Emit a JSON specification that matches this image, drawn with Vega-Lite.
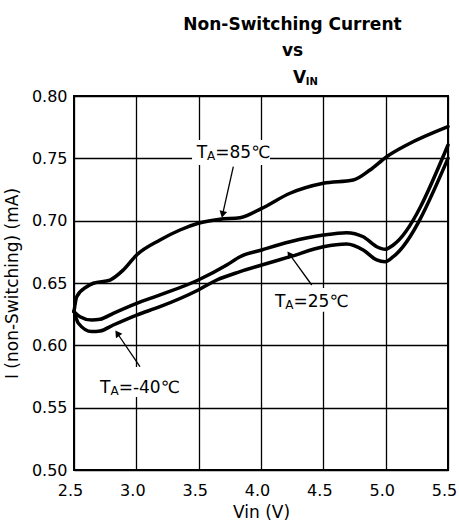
{
  "$schema": "https://vega.github.io/schema/vega-lite/v6.json",
  "width": 374,
  "height": 374,
  "autosize": {"type": "none"},
  "padding": {"left": 74, "top": 96, "right": 11, "bottom": 54},
  "title": {
    "text": ["Non-Switching Current", "vs"],
    "font": "DejaVu Sans",
    "fontSize": 17,
    "fontWeight": "bold",
    "color": "black",
    "lineHeight": 26.6,
    "offset": 9,
    "dx": 31.5,
    "anchor": "middle"
  },
  "datasets": {
    "curves": [
      {"series": "85", "vin": 2.5, "i": 0.627},
      {"series": "85", "vin": 2.522, "i": 0.639},
      {"series": "85", "vin": 2.602, "i": 0.647},
      {"series": "85", "vin": 2.655, "i": 0.6498},
      {"series": "85", "vin": 2.789, "i": 0.6524},
      {"series": "85", "vin": 2.895, "i": 0.6604},
      {"series": "85", "vin": 3.003, "i": 0.6725},
      {"series": "85", "vin": 3.19, "i": 0.6845},
      {"series": "85", "vin": 3.35, "i": 0.6925},
      {"series": "85", "vin": 3.497, "i": 0.6979},
      {"series": "85", "vin": 3.671, "i": 0.7011},
      {"series": "85", "vin": 3.832, "i": 0.7024},
      {"series": "85", "vin": 4.006, "i": 0.7099},
      {"series": "85", "vin": 4.233, "i": 0.722},
      {"series": "85", "vin": 4.5, "i": 0.73},
      {"series": "85", "vin": 4.74, "i": 0.7326},
      {"series": "85", "vin": 4.874, "i": 0.7406},
      {"series": "85", "vin": 5.008, "i": 0.7513},
      {"series": "85", "vin": 5.169, "i": 0.7607},
      {"series": "85", "vin": 5.5, "i": 0.7754},
      {"series": "25", "vin": 2.5, "i": 0.627},
      {"series": "25", "vin": 2.548, "i": 0.623},
      {"series": "25", "vin": 2.642, "i": 0.6203},
      {"series": "25", "vin": 2.709, "i": 0.6209},
      {"series": "25", "vin": 2.815, "i": 0.6257},
      {"series": "25", "vin": 3.003, "i": 0.6337},
      {"series": "25", "vin": 3.19, "i": 0.6404},
      {"series": "25", "vin": 3.497, "i": 0.6524},
      {"series": "25", "vin": 3.725, "i": 0.6644},
      {"series": "25", "vin": 3.832, "i": 0.6711},
      {"series": "25", "vin": 4.006, "i": 0.6765},
      {"series": "25", "vin": 4.233, "i": 0.6831},
      {"series": "25", "vin": 4.5, "i": 0.6885},
      {"series": "25", "vin": 4.687, "i": 0.6904},
      {"series": "25", "vin": 4.82, "i": 0.6871},
      {"series": "25", "vin": 4.928, "i": 0.6791},
      {"series": "25", "vin": 4.995, "i": 0.677},
      {"series": "25", "vin": 5.061, "i": 0.6805},
      {"series": "25", "vin": 5.5, "i": 0.7607},
      {"series": "-40", "vin": 2.5, "i": 0.6275},
      {"series": "-40", "vin": 2.535, "i": 0.6177},
      {"series": "-40", "vin": 2.642, "i": 0.611},
      {"series": "-40", "vin": 2.709, "i": 0.6115},
      {"series": "-40", "vin": 2.815, "i": 0.6163},
      {"series": "-40", "vin": 3.003, "i": 0.6243},
      {"series": "-40", "vin": 3.19, "i": 0.631},
      {"series": "-40", "vin": 3.497, "i": 0.6444},
      {"series": "-40", "vin": 3.645, "i": 0.6524},
      {"series": "-40", "vin": 3.832, "i": 0.6591},
      {"series": "-40", "vin": 4.006, "i": 0.6644},
      {"series": "-40", "vin": 4.233, "i": 0.6711},
      {"series": "-40", "vin": 4.5, "i": 0.6791},
      {"series": "-40", "vin": 4.687, "i": 0.6813},
      {"series": "-40", "vin": 4.82, "i": 0.6765},
      {"series": "-40", "vin": 4.928, "i": 0.6685},
      {"series": "-40", "vin": 4.995, "i": 0.6671},
      {"series": "-40", "vin": 5.061, "i": 0.6711},
      {"series": "-40", "vin": 5.5, "i": 0.75}
    ],
    "labels": [
      {"rest": "=85℃", "x": 3.484, "y": 0.75, "bx1": 3.447, "bx2": 4.072, "by1": 0.7647, "by2": 0.7447},
      {"rest": "=25℃", "x": 4.112, "y": 0.631, "bx1": 4.072, "bx2": 4.69, "by1": 0.646, "by2": 0.627},
      {"rest": "=-40℃", "x": 2.709, "y": 0.5615, "bx1": 2.684, "bx2": 3.35, "by1": 0.5826, "by2": 0.5586}
    ],
    "arrows": [
      {"x1": 3.778, "y1": 0.7433, "x2": 3.692, "y2": 0.705, "ang": 192.7},
      {"x1": 4.407, "y1": 0.6484, "x2": 4.228, "y2": 0.6731, "ang": 324},
      {"x1": 3.029, "y1": 0.5829, "x2": 2.847, "y2": 0.6097, "ang": 325.7}
    ],
    "heading": [
      {"t": "V", "x": 4.257, "y": 0.8102, "part": "big"},
      {"t": "IN", "x": 4.359, "y": 0.8088, "part": "small"}
    ]
  },
  "layer": [
    {
      "data": {"name": "curves"},
      "mark": {"type": "line", "interpolate": "monotone", "strokeWidth": 3.5, "color": "black", "strokeJoin": "round", "strokeCap": "round"},
      "encoding": {
        "x": {
          "field": "vin", "type": "quantitative", "title": "Vin (V)",
          "scale": {"domain": [2.5, 5.5], "nice": false, "zero": false},
          "axis": {"values": [2.5, 3, 3.5, 4, 4.5, 5, 5.5], "format": ".1f", "labelPadding": 12, "titlePadding": 6, "labelOffset": -4, "labelFlush": false, "labelOverlap": false}
        },
        "y": {
          "field": "i", "type": "quantitative", "title": "I (non-Switching) (mA)",
          "scale": {"domain": [0.5, 0.8], "nice": false, "zero": false},
          "axis": {"values": [0.5, 0.55, 0.6, 0.65, 0.7, 0.75, 0.8], "format": ".2f", "labelPadding": 7, "titlePadding": 10, "labelOverlap": false, "labelFlush": false}
        },
        "detail": {"field": "series"}
      }
    },
    {
      "data": {"name": "labels"},
      "mark": {"type": "rect", "fill": "white", "strokeWidth": 0},
      "encoding": {
        "x": {"field": "bx1", "type": "quantitative", "title": "Vin (V)"},
        "x2": {"field": "bx2"},
        "y": {"field": "by1", "type": "quantitative", "title": "I (non-Switching) (mA)"},
        "y2": {"field": "by2"}
      }
    },
    {
      "data": {"name": "labels"},
      "mark": {"type": "text", "text": "T", "align": "left", "baseline": "alphabetic", "font": "DejaVu Sans", "fontSize": 17, "color": "black"},
      "encoding": {
        "x": {"field": "x", "type": "quantitative", "title": "Vin (V)"},
        "y": {"field": "y", "type": "quantitative", "title": "I (non-Switching) (mA)"}
      }
    },
    {
      "data": {"name": "labels"},
      "mark": {"type": "text", "text": "A", "align": "left", "baseline": "alphabetic", "font": "DejaVu Sans", "fontSize": 12, "dx": 10.4, "dy": 2, "color": "black"},
      "encoding": {
        "x": {"field": "x", "type": "quantitative", "title": "Vin (V)"},
        "y": {"field": "y", "type": "quantitative", "title": "I (non-Switching) (mA)"}
      }
    },
    {
      "data": {"name": "labels"},
      "mark": {"type": "text", "align": "left", "baseline": "alphabetic", "font": "DejaVu Sans", "fontSize": 17, "dx": 18.6, "color": "black"},
      "encoding": {
        "x": {"field": "x", "type": "quantitative", "title": "Vin (V)"},
        "y": {"field": "y", "type": "quantitative", "title": "I (non-Switching) (mA)"},
        "text": {"field": "rest"}
      }
    },
    {
      "data": {"name": "arrows"},
      "mark": {"type": "rule", "strokeWidth": 1.3, "color": "black"},
      "encoding": {
        "x": {"field": "x1", "type": "quantitative", "title": "Vin (V)"},
        "y": {"field": "y1", "type": "quantitative", "title": "I (non-Switching) (mA)"},
        "x2": {"field": "x2"},
        "y2": {"field": "y2"}
      }
    },
    {
      "data": {"name": "arrows"},
      "mark": {"type": "point", "shape": "triangle-up", "filled": true, "size": 60, "color": "black", "opacity": 1, "strokeWidth": 0},
      "encoding": {
        "x": {"field": "x2", "type": "quantitative", "title": "Vin (V)"},
        "y": {"field": "y2", "type": "quantitative", "title": "I (non-Switching) (mA)"},
        "angle": {"field": "ang", "type": "quantitative", "scale": null}
      }
    },
    {
      "data": {"name": "heading"},
      "transform": [{"filter": "datum.part === 'big'"}],
      "mark": {"type": "text", "align": "left", "baseline": "alphabetic", "font": "DejaVu Sans", "fontSize": 17, "fontWeight": "bold", "color": "black"},
      "encoding": {
        "x": {"field": "x", "type": "quantitative", "title": "Vin (V)"},
        "y": {"field": "y", "type": "quantitative", "title": "I (non-Switching) (mA)"},
        "text": {"field": "t"}
      }
    },
    {
      "data": {"name": "heading"},
      "transform": [{"filter": "datum.part === 'small'"}],
      "mark": {"type": "text", "align": "left", "baseline": "alphabetic", "font": "DejaVu Sans", "fontSize": 10, "fontWeight": "bold", "color": "black"},
      "encoding": {
        "x": {"field": "x", "type": "quantitative", "title": "Vin (V)"},
        "y": {"field": "y", "type": "quantitative", "title": "I (non-Switching) (mA)"},
        "text": {"field": "t"}
      }
    }
  ],
  "config": {
    "font": "DejaVu Sans",
    "view": {"stroke": "black", "strokeWidth": 2},
    "axis": {
      "grid": true,
      "gridColor": "black",
      "gridWidth": 1.3,
      "gridOpacity": 1,
      "domain": false,
      "ticks": false,
      "labelFont": "DejaVu Sans",
      "labelFontSize": 16,
      "labelColor": "black",
      "titleFont": "DejaVu Sans",
      "titleFontSize": 17,
      "titleFontWeight": "normal",
      "titleColor": "black"
    }
  }
}
